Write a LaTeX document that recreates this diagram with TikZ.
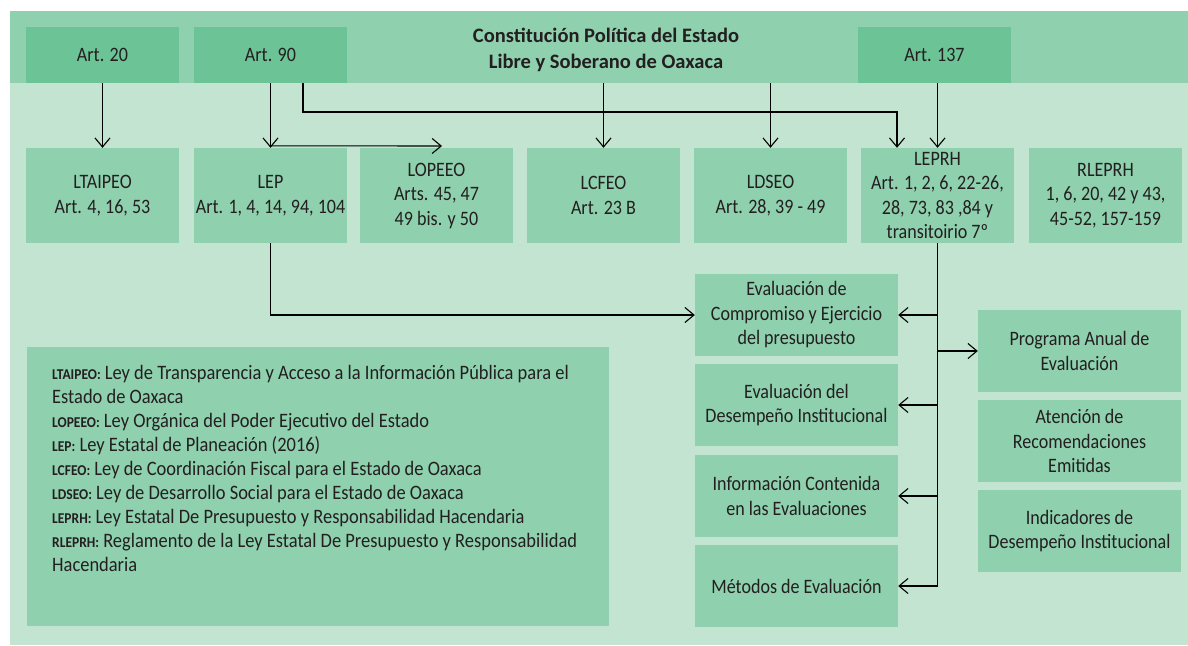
\documentclass[tikz,border=0pt]{standalone}
\usepackage{fontspec}
\setmainfont{Carlito}[FakeStretch=0.88]
\newfontfamily\titlefont{Carlito}
\newfontfamily\legendfont{Carlito}[FakeStretch=0.9]
\usetikzlibrary{arrows.meta}
\definecolor{bglight}{HTML}{C2E4D1}
\definecolor{bgmid}{HTML}{8FD0AE}
\definecolor{bgdark}{HTML}{6CC396}
\definecolor{txt}{HTML}{231F20}
\newcommand\legabbr[1]{{\fontsize{15}{15}\selectfont\bfseries #1}}
\begin{document}
\begin{tikzpicture}[x=1pt,y=-1pt,
  box/.style={fill=bgmid, draw=none, inner sep=0pt, align=center, text=txt,
    font=\fontsize{20.5}{24.5}\selectfont},
  artbox/.style={box, fill=bgdark, minimum width=153pt, minimum height=56pt},
  lawbox/.style={box, minimum width=153pt, minimum height=95pt},
  evalbox/.style={box, minimum width=203pt, minimum height=82pt},
  conn/.style={draw=black, line width=1.1pt},
  arr/.style={conn, -{Straight Barb[length=9pt,width=15pt,line width=1.1pt]}},
]
\useasboundingbox (0,0) rectangle (1188,645);
\fill[white] (0,0) rectangle (1188,645);
\fill[bglight] (10,11) rectangle (1188,645);
\node[fill=bgmid, draw=none, inner sep=0pt, minimum width=1178pt, minimum height=72pt] (band) at (599,47) {};

% top row
\node[artbox] (art20) at (102.5,55) {Art. 20};
\node[artbox] (art90) at (270.5,55) {Art. 90};
\node[artbox] (art137) at (934.5,55) {Art. 137};
\node[align=center, text=txt, inner sep=0pt, font=\titlefont\fontsize{20.5}{26}\selectfont\bfseries] (title) at (606,50)
  {Constitución Política del Estado\\Libre y Soberano de Oaxaca};

% law row
\node[lawbox] (ltaipeo) at (102.5,195.5) {LTAIPEO\\Art. 4, 16, 53};
\node[lawbox] (lep) at (270.5,195.5) {LEP\\Art. 1, 4, 14, 94, 104};
\node[lawbox] (lopeeo) at (436.5,195.5) {LOPEEO\\Arts. 45, 47\\49 bis. y 50};
\node[lawbox] (lcfeo) at (603.5,195.5) {LCFEO\\Art. 23 B};
\node[lawbox] (ldseo) at (770.5,195.5) {LDSEO\\Art. 28, 39 - 49};
\node[lawbox] (leprh) at (937.5,195.5) {LEPRH\\Art. 1, 2, 6, 22-26,\\28, 73, 83 ,84 y\\transitoirio 7º};
\node[lawbox] (rleprh) at (1105.5,195.5) {RLEPRH\\1, 6, 20, 42 y 43,\\45-52, 157-159};

% evaluation column
\node[evalbox] (eval1) at (796.5,315) {Evaluación de\\Compromiso y Ejercicio\\del presupuesto};
\node[evalbox] (eval2) at (796.5,405) {Evaluación del\\Desempeño Institucional};
\node[evalbox] (eval3) at (796.5,496) {Información Contenida\\en las Evaluaciones};
\node[evalbox] (eval4) at (796.5,586) {Métodos de Evaluación};

% right column
\node[evalbox] (proga) at (1079.5,351) {Programa Anual de\\Evaluación};
\node[evalbox] (progb) at (1079.5,441) {Atención de\\Recomendaciones\\Emitidas};
\node[evalbox] (progc) at (1079.5,531) {Indicadores de\\Desempeño Institucional};

% legend
\node[fill=bgmid, draw=none, inner sep=0pt, minimum width=582pt, minimum height=279pt] (legend) at (318,486.5) {};
\node[anchor=north west, align=left, inner sep=0pt, text=txt, font=\legendfont\fontsize{20.5}{24}\selectfont] (legtext) at (52,365)
  {\legabbr{LTAIPEO:} Ley de Transparencia y Acceso a la Información Pública para el\\
   Estado de Oaxaca\\
   \legabbr{LOPEEO:} Ley Orgánica del Poder Ejecutivo del Estado\\
   \legabbr{LEP:} Ley Estatal de Planeación (2016)\\
   \legabbr{LCFEO:} Ley de Coordinación Fiscal para el Estado de Oaxaca\\
   \legabbr{LDSEO:} Ley de Desarrollo Social para el Estado de Oaxaca\\
   \legabbr{LEPRH:} Ley Estatal De Presupuesto y Responsabilidad Hacendaria\\
   \legabbr{RLEPRH:} Reglamento de la Ley Estatal De Presupuesto y Responsabilidad\\
   Hacendaria};

% connectors
\draw[arr] (art20.south) -- (ltaipeo.north);
\draw[arr] (art90.south) -- (lep.north);
\coordinate (lopeeotip) at (442,146);
\draw[arr] ([yshift=2pt]lep.north) -- (lopeeotip);
\coordinate (h1) at (303,112);
\coordinate (h2) at (897,112);
\draw[arr] (art90.south -| h1) -- (h1) -- (h2) -- (leprh.north -| h2);
\draw[arr] (band.south -| lcfeo.north) -- (lcfeo.north);
\draw[arr] (band.south -| ldseo.north) -- (ldseo.north);
\draw[arr] (art137.south -| leprh.north) -- (leprh.north);
\coordinate (trunkend) at (leprh.south |- eval4.east);
\draw[conn] (leprh.south) -- (trunkend);
\draw[arr] (leprh.south |- eval1.east) -- (eval1.east);
\draw[arr] (leprh.south |- eval2.east) -- (eval2.east);
\draw[arr] (leprh.south |- eval3.east) -- (eval3.east);
\draw[arr] (trunkend) -- (eval4.east);
\draw[arr] (leprh.south |- proga.west) -- (proga.west);
\draw[arr] (lep.south) |- (eval1.west);
\end{tikzpicture}
\end{document}
